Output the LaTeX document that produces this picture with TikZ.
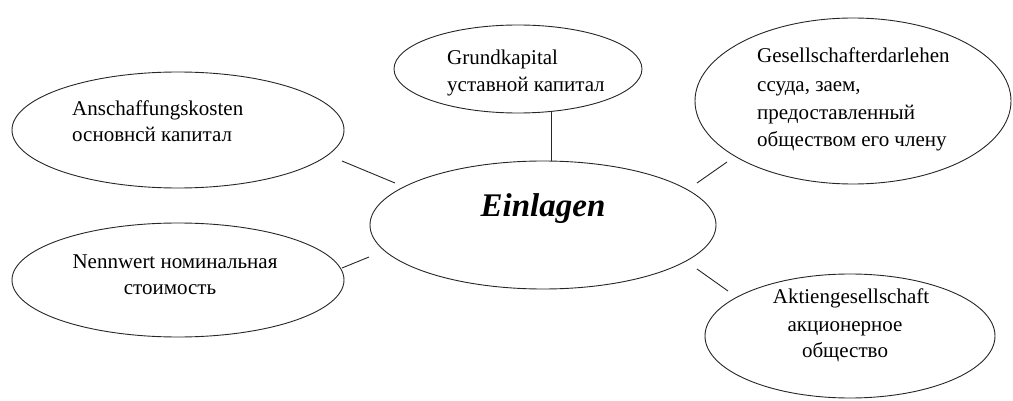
\documentclass[tikz,border=0pt]{standalone}
\usepackage{fontspec}
\setmainfont{Liberation Serif}
\usetikzlibrary{shapes.geometric}
\begin{document}
\begin{tikzpicture}[x=1pt,y=-1pt,
  oval/.style={draw=black!85,ellipse,line width=0.9pt,inner sep=0pt},
  lblL/.style={anchor=base west,inner sep=0pt,font=\fontsize{21}{27}\selectfont},
  lblC/.style={anchor=base,inner sep=0pt,font=\fontsize{21}{27}\selectfont},
  conn/.style={draw=black!85,line width=0.9pt}]
\useasboundingbox (0,0) rectangle (1013,401);
% ellipses
\node[oval,minimum width=346pt,minimum height=128pt] (c) at (543,225) {};
\node[oval,minimum width=248pt,minimum height=88pt] (top) at (518,69) {};
\node[oval,minimum width=316pt,minimum height=166pt] (rt) at (853,101) {};
\node[oval,minimum width=332pt,minimum height=116pt] (lt) at (178,130) {};
\node[oval,minimum width=332pt,minimum height=114pt] (lb) at (178,280) {};
\node[oval,minimum width=290pt,minimum height=124pt] (rb) at (850,336) {};
% texts
\node[anchor=base,inner sep=0pt,font=\fontsize{33}{36}\selectfont\bfseries\itshape] (ctext) at (543,217) {Einlagen};
\node[lblL] (t1) at (447,65) {Grundkapital};
\node[lblL] (t2) at (447,92) {уставной капитал};
\node[lblL] (g1) at (757,63) {Gesellschafterdarlehen};
\node[lblL] (g2) at (757,92) {ссуда, заем,};
\node[lblL] (g3) at (757,120) {предоставленный};
\node[lblL] (g4) at (757,147) {обществом его члену};
\node[lblL] (a1) at (72,116) {Anschaffungskosten};
\node[lblL] (a2) at (72,142) {основнсй капитал};
\node[lblC] (n1) at (175,269) {Nennwert номинальная};
\node[lblC] (n2) at (170,294) {стоимость};
\node[lblC] (k1) at (851,303) {Aktiengesellschaft};
\node[lblC] (k2) at (845,331) {акционерное};
\node[lblC] (k3) at (845,357) {общество};
% connector ends
\coordinate (l1a) at (342,161); \coordinate (l1b) at (395,183);
\coordinate (l2a) at (342,268); \coordinate (l2b) at (369,257);
\coordinate (va) at (551,112); \coordinate (vb) at (551,161);
\coordinate (r1a) at (697,183); \coordinate (r1b) at (727,162);
\coordinate (r2a) at (697,269); \coordinate (r2b) at (728,291);
\draw[conn] (l1a) -- (l1b);
\draw[conn] (l2a) -- (l2b);
\draw[conn] (va) -- (vb);
\draw[conn] (r1a) -- (r1b);
\draw[conn] (r2a) -- (r2b);
\end{tikzpicture}
\end{document}
